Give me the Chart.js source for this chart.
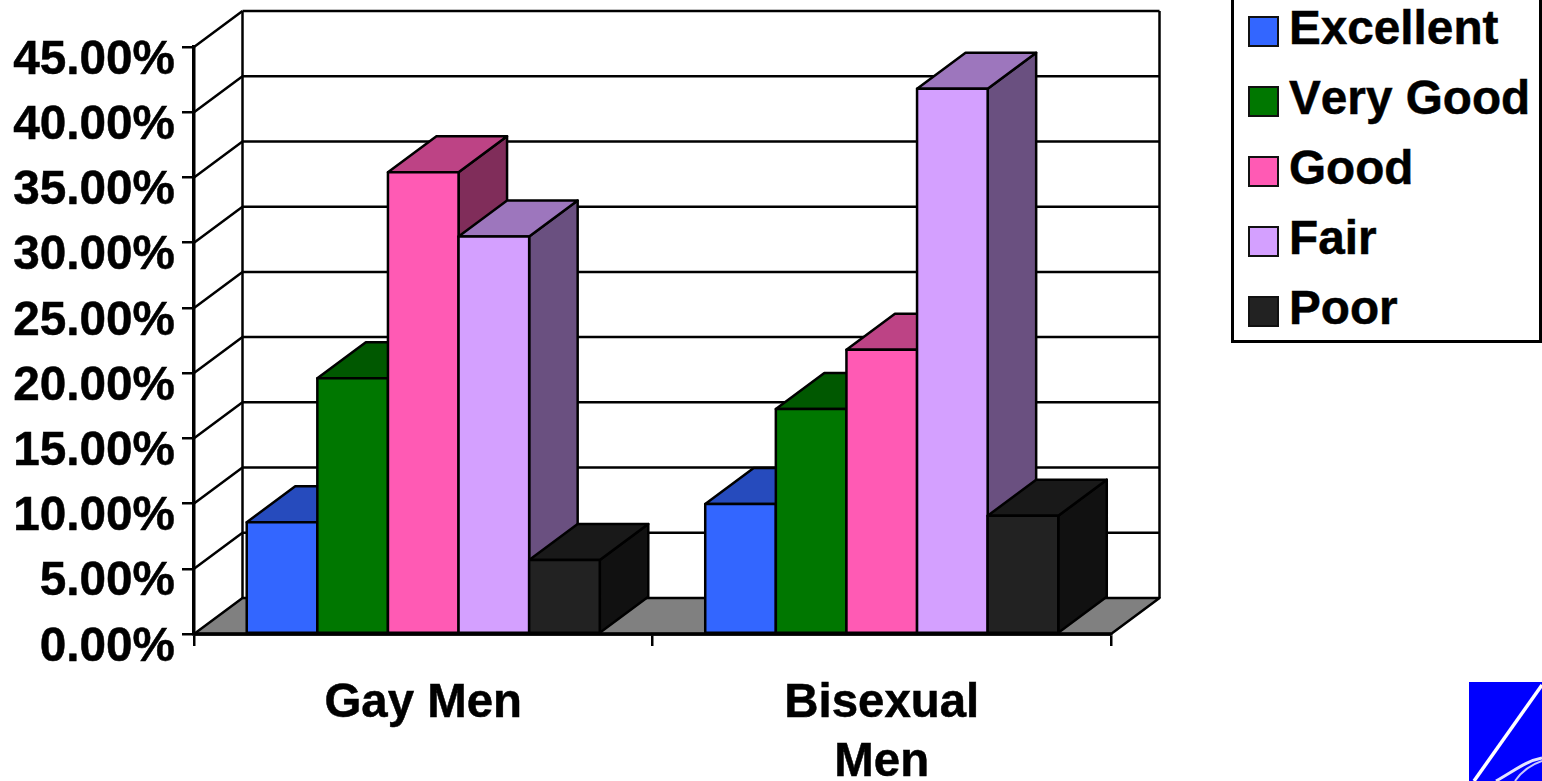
<!DOCTYPE html>
<html>
<head>
<meta charset="utf-8">
<title>Self-rated health</title>
<script src="https://cdn.jsdelivr.net/npm/chart.js@4/dist/chart.umd.min.js"></script>
<style>
    html, body { margin: 0; padding: 0; background: #fff; overflow: hidden; }
    #palco { position: relative; width: 1542px; height: 781px; }
    #grafico { position: absolute; left: 0; top: 0; }
    #legenda {
        position: absolute; left: 1231px; top: -8px; width: 305px; height: 345px;
        border: 3px solid #000; background: #fff;
        font: bold 47.7px "Liberation Sans", Arial, sans-serif; color: #000;
        font-kerning: none; -webkit-text-stroke: 0.5px #000;
    }
    #legenda .linha { position: absolute; left: 0; height: 70px; line-height: 70px; white-space: nowrap; }
    #legenda .caixa {
        position: absolute; left: 14px; top: 18px; width: 27px; height: 27px;
        border: 2.5px solid #111;
    }
    #legenda .nome { position: absolute; left: 55px; top: -5px; }
    #logo { position: absolute; left: 1468px; top: 681px; filter: blur(0.5px); }
</style>
</head>
<body>
<div id="palco">
    <canvas id="grafico" width="1542" height="781"></canvas>
    <div id="legenda"></div>
    <svg id="logo" width="74" height="100" viewBox="0 0 74 100">
        <rect x="1" y="1" width="73" height="99" fill="#0000ff"/>
        <path d="M74 4 L6 100" stroke="#fff" stroke-width="3.5" fill="none"/>
        <path d="M74 77 C58 80 46 90 28 100" stroke="#e4e4ff" stroke-width="3" fill="none"/>
        <path d="M74 80 C62 84 54 90 47 100" stroke="#c8c8ff" stroke-width="2" fill="none"/>
    </svg>
</div>
<script>
var categorias = [['Gay Men'], ['Bisexual', 'Men']];
var nomesSerie = ['Excellent', 'Very Good', 'Good', 'Fair', 'Poor'];
var coresSerie = ['#3366ff', '#007700', '#ff5ab4', '#d4a0ff', '#222222'];
var excelente = [8.56, 9.97];
var muitoBom = [19.6, 17.25];
var bom = [35.4, 21.8];
var regular = [30.47, 41.8];
var ruim = [5.67, 9.07];
var valoresSerie = [excelente, muitoBom, bom, regular, ruim];

var profX = 48.5;
var profY = 36;
var fonteBold = '"Liberation Sans", Arial, sans-serif';

function escurecer(hex, fator) {
    var n = parseInt(hex.slice(1), 16);
    var r = Math.round((n >> 16 & 255) * fator);
    var g = Math.round((n >> 8 & 255) * fator);
    var b = Math.round((n & 255) * fator);
    return 'rgb(' + r + ',' + g + ',' + b + ')';
}

function poligono(ctx, pontos, preenchimento, larguraLinha) {
    ctx.beginPath();
    pontos.forEach(function (p, i) {
        if (i === 0) ctx.moveTo(p[0], p[1]);
        else ctx.lineTo(p[0], p[1]);
    });
    ctx.closePath();
    ctx.fillStyle = preenchimento;
    ctx.fill();
    ctx.lineWidth = larguraLinha;
    ctx.strokeStyle = '#000';
    ctx.lineJoin = 'round';
    ctx.stroke();
}

function linha(ctx, x1, y1, x2, y2, largura) {
    ctx.beginPath();
    ctx.moveTo(x1, y1);
    ctx.lineTo(x2, y2);
    ctx.lineWidth = largura;
    ctx.strokeStyle = '#000';
    ctx.stroke();
}

function desenharCaixa(chart) {
    var ctx = chart.ctx;
    var area = chart.chartArea;
    var y = chart.scales.y;
    linha(ctx, area.left + profX, area.top - profY, area.left + profX, area.bottom - profY, 2.5);
    linha(ctx, area.right + profX, area.top - profY, area.right + profX, area.bottom - profY, 2.5);
    y.ticks.forEach(function (t) {
        var py = y.getPixelForValue(t.value);
        if (t.value === 0) return;
        linha(ctx, area.left, py, area.left + profX, py - profY, 2.5);
        linha(ctx, area.left + profX, py - profY, area.right + profX, py - profY, 2.5);
    });
    poligono(ctx, [
        [area.left, area.bottom],
        [area.left + profX, area.bottom - profY],
        [area.right + profX, area.bottom - profY],
        [area.right, area.bottom]
    ], '#808080', 2.5);
}

function desenharSerie(chart, meta, cor) {
    var ctx = chart.ctx;
    // topo e lateral saem antes da frente
    meta.data.forEach(function (barra) {
        var esq = barra.x - barra.width / 2;
        var dir = barra.x + barra.width / 2;
        poligono(ctx, [
            [dir, barra.y],
            [dir + profX, barra.y - profY],
            [dir + profX, barra.base - profY],
            [dir, barra.base]
        ], escurecer(cor, 0.5), 2.5);
        poligono(ctx, [
            [esq, barra.y],
            [esq + profX, barra.y - profY],
            [dir + profX, barra.y - profY],
            [dir, barra.y]
        ], escurecer(cor, 0.74), 2.5);
    });
    meta.controller.draw();
    ctx.lineWidth = 2.5;
    ctx.strokeStyle = '#000';
    meta.data.forEach(function (barra) {
        ctx.strokeRect(barra.x - barra.width / 2, barra.y, barra.width, barra.base - barra.y);
    });
}

// desenha as series da esquerda para a direita, cada uma cobre a lateral da anterior
var caixa3d = {
    id: 'caixa3d',
    beforeDatasetsDraw: function (chart) {
        var ctx = chart.ctx;
        var area = chart.chartArea;
        ctx.save();
        desenharCaixa(chart);
        chart.getSortedVisibleDatasetMetas().forEach(function (meta) {
            desenharSerie(chart, meta, coresSerie[meta.index]);
        });
        linha(ctx, area.left, area.bottom, area.right, area.bottom, 3.5);
        ctx.restore();
        return false;
    }
};

var linhasLegenda = document.getElementById('legenda');
nomesSerie.forEach(function (nome, i) {
    var el = document.createElement('div');
    el.className = 'linha';
    el.style.top = (3 + i * 70) + 'px';
    el.innerHTML = '<span class="caixa" style="background:' + coresSerie[i] + '"></span><span class="nome">' + nome + '</span>';
    linhasLegenda.appendChild(el);
});

new Chart(document.getElementById('grafico'), {
    type: 'bar',
    data: {
        labels: categorias,
        datasets: nomesSerie.map(function (nome, i) {
            return {
                label: nome,
                data: valoresSerie[i],
                backgroundColor: coresSerie[i],
                borderWidth: 0,
                categoryPercentage: 0.77,
                barPercentage: 1
            };
        })
    },
    options: {
        responsive: false,
        animation: false,
        layout: { padding: { left: 0, right: 431, top: 47, bottom: 0 } },
        plugins: { legend: { display: false }, tooltip: { enabled: false } },
        scales: {
            x: {
                afterFit: function (escala) { escala.height = 147; },
                border: { color: '#000', width: 3.5 },
                grid: { drawOnChartArea: false, color: '#000', lineWidth: 2.5, tickLength: 12 },
                ticks: {
                    color: '#000', padding: 28, maxRotation: 0, autoSkip: false,
                    textStrokeColor: '#000', textStrokeWidth: 0.5,
                    font: { family: fonteBold, size: 47.4, weight: 'bold', lineHeight: 1.25 }
                }
            },
            y: {
                min: 0, max: 45,
                afterFit: function (escala) { escala.width = 194; },
                border: { color: '#000', width: 3.5 },
                grid: { drawOnChartArea: false, color: '#000', lineWidth: 2.5, tickLength: 12 },
                ticks: {
                    stepSize: 5, color: '#000', padding: 7, labelOffset: 13.5,
                    textStrokeColor: '#000', textStrokeWidth: 0.5,
                    font: { family: fonteBold, size: 47.7, weight: 'bold' },
                    callback: function (v) { return v.toFixed(2) + '%'; }
                }
            }
        }
    },
    plugins: [caixa3d]
});
</script>
</body>
</html>
